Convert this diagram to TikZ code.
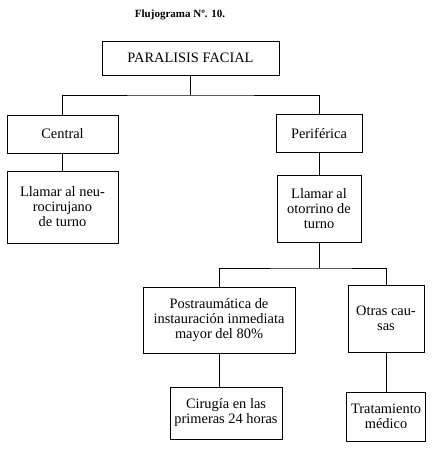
\documentclass[tikz,border=0pt]{standalone}
\usepackage{fontspec}
\setmainfont{Liberation Serif}
\begin{document}
\begin{tikzpicture}[x=1pt, y=-1pt, line width=0.9pt,
		every node/.style={font=\fontsize{14.4}{15}\selectfont},
		box/.style={draw, align=center, inner sep=0pt}]
		\useasboundingbox (0,0) rectangle (433,455);
		\node (title) at (180,15) {\fontsize{11}{13}\selectfont\bfseries Flujograma Nº. 10.};
		\node[box, minimum width=177, minimum height=34] (par) at (190.5,58) {PARALISIS FACIAL};
		\node[box, minimum width=111, minimum height=38] (cen) at (62.5,134) {Central};
		\node[box, minimum width=86, minimum height=38] (per) at (319,133) {Periférica};
		\node[box, minimum width=111, minimum height=72] (neu) at (62.5,207) {Llamar al neu-\\rocirujano\\de turno};
		\node[box, minimum width=84, minimum height=67] (oto) at (319,208.5) {Llamar al\\otorrino de\\turno};
		\node[box, minimum width=152, minimum height=66] (pos) at (219,320) {Postraumática de\\instauración inmediata\\mayor del 80\%};
		\node[box, minimum width=76, minimum height=67] (otr) at (386,318.5) {Otras cau-\\sas};
		\node[box, minimum width=112, minimum height=52] (cir) at (226,413) {Cirugía en las\\primeras 24 horas};
		\node[box, minimum width=79, minimum height=49] (tra) at (386,416.5) {Tratamiento\\médico};
		\coordinate (j1) at (190.5,95);
		\coordinate (j2) at (319,268);
		\draw (par) -- (j1);
		\draw (cen) |- (j1) -| (per);
		\draw (cen) -- (neu);
		\draw (per) -- (oto);
		\draw (oto) -- (j2);
		\draw (pos) |- (j2) -| (otr);
		\draw (pos) -- (pos |- cir.north);
		\draw (otr) -- (tra);
	\end{tikzpicture}
\end{document}
